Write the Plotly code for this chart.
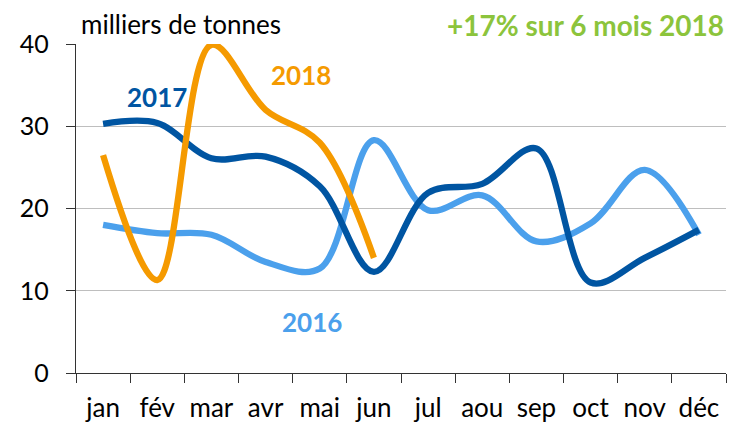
import plotly.graph_objects as go

mois = ["jan", "fév", "mar", "avr", "mai", "jun", "jul", "aou", "sep", "oct", "nov", "déc"]
val_2016 = [18.0, 17.0, 16.8, 13.5, 12.7, 28.3, 19.8, 21.6, 16.0, 18.2, 24.7, 16.8]
val_2017 = [30.3, 30.4, 26.1, 26.3, 22.7, 12.3, 21.9, 23.0, 27.3, 11.0, 14.0, 17.4]
val_2018 = [26.5, 11.3, 39.9, 32.0, 28.0, 14.0]

C16 = "#4BA0EC"
C17 = "#0055A2"
C18 = "#F59A00"
VERT = "#8CC43C"
FONT = "Lato"

fig = go.Figure()
for nom, vals, col in [("2016", val_2016, C16), ("2017", val_2017, C17), ("2018", val_2018, C18)]:
    fig.add_trace(go.Scatter(
        x=mois[:len(vals)], y=vals, name=nom, mode="lines",
        line=dict(color=col, width=6.3, shape="spline", smoothing=1.0),
        hoverinfo="skip",
    ))

fig.update_layout(
    width=740, height=426,
    margin=dict(l=76, r=14, t=44, b=53),
    paper_bgcolor="white", plot_bgcolor="white",
    showlegend=False,
    font=dict(family=FONT, color="#000000"),
    xaxis=dict(
        type="category", categoryorder="array", categoryarray=mois,
        tickson="boundaries", ticks="outside", ticklen=9, tickwidth=1.3,
        tickcolor="#333333", showline=True, linecolor="#333333", linewidth=1.3,
        showgrid=False, tickfont=dict(size=26, family=FONT), ticklabelstandoff=12,
        tickangle=0, automargin=False, range=[-0.5, 11.5],
    ),
    yaxis=dict(
        range=[0, 40], tickvals=[0, 10, 20, 30, 40], ticks="outside", ticklen=9,
        tickwidth=1.3, tickcolor="#333333", showline=True, linecolor="#333333",
        linewidth=1.3, showgrid=True, gridcolor="#BEBEBE", gridwidth=1.3,
        zeroline=False, tickfont=dict(size=25, family=FONT), ticklabelstandoff=12,
        automargin=False,
    ),
)

fig.add_annotation(text="milliers de tonnes", xref="paper", yref="paper",
                   x=0.005, y=1.0, xanchor="left", yanchor="bottom", yshift=2, showarrow=False,
                   font=dict(size=26, family=FONT, color="#000000"))
fig.add_annotation(text="<b>+17% sur 6 mois 2018</b>", xref="paper", yref="paper",
                   x=1.0, y=1.0, xanchor="right", yanchor="bottom", yshift=0, showarrow=False,
                   font=dict(size=28, family=FONT, color=VERT))
fig.add_annotation(text="<b>2017</b>", x=1.0, y=33.5, xref="x", yref="y", showarrow=False,
                   font=dict(size=26, family=FONT, color=C17))
fig.add_annotation(text="<b>2018</b>", x=3.65, y=36.2, xref="x", yref="y", showarrow=False,
                   font=dict(size=26, family=FONT, color=C18))
fig.add_annotation(text="<b>2016</b>", x=3.85, y=6.2, xref="x", yref="y", showarrow=False,
                   font=dict(size=26, family=FONT, color=C16))

fig.write_html("out.html")
